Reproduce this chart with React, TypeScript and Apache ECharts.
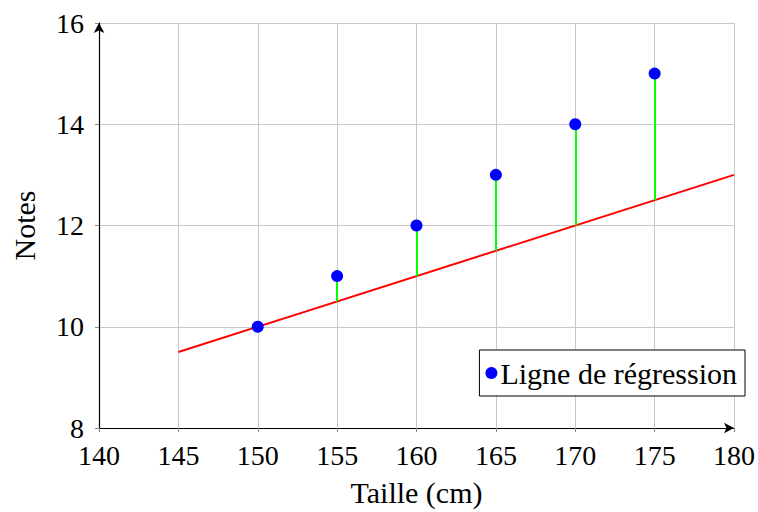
import React, { useEffect, useRef } from "react";
import * as echarts from "echarts";

const heights = [150, 155, 160, 165, 170, 175];
const grades = [10, 11, 12, 13, 14, 15];
const fitted = [10, 10.5, 11, 11.5, 12, 12.5];
const regX = [145, 180];
const regY = [9.5, 13];
const xTicks = [140, 145, 150, 155, 160, 165, 170, 175, 180];
const yTicks = [8, 10, 12, 14, 16];

const FONT = "Liberation Serif";
const FS = 28;
const FS2 = 30;

export default function App() {
  const ref = useRef<HTMLDivElement>(null);
  useEffect(() => {
    if (!ref.current) return;
    const chart = echarts.init(ref.current, undefined, { renderer: "svg" });
    chart.setOption({
      animation: false,
      textStyle: { fontFamily: FONT, color: "#000" },
      grid: { left: 99, right: 22, top: 23, bottom: 79, containLabel: false },
      xAxis: {
        type: "value",
        min: xTicks[0],
        max: xTicks[xTicks.length - 1],
        interval: 5,
        name: "Taille (cm)",
        nameLocation: "middle",
        nameGap: 49,
        nameTextStyle: { fontFamily: FONT, fontSize: FS2, color: "#000" },
        axisLine: { show: true, symbol: ["none", "arrow"], symbolSize: [8, 10], symbolOffset: [0, 0], lineStyle: { color: "#000", width: 1.2 } },
        axisTick: { show: true, length: 4, lineStyle: { color: "#888" } },
        axisLabel: { fontFamily: FONT, fontSize: FS, color: "#000", margin: 13 },
        splitLine: { show: true, lineStyle: { color: "#c8c8c8", width: 1 } },
      },
      yAxis: {
        type: "value",
        min: yTicks[0],
        max: yTicks[yTicks.length - 1],
        interval: 2,
        name: "Notes",
        nameLocation: "middle",
        nameGap: 60,
        nameRotate: 90,
        nameTextStyle: { fontFamily: FONT, fontSize: FS2, color: "#000" },
        axisLine: { show: true, symbol: ["none", "arrow"], symbolSize: [8, 10], symbolOffset: [0, 0], lineStyle: { color: "#000", width: 1.2 } },
        axisTick: { show: true, length: 4, lineStyle: { color: "#888" } },
        axisLabel: { fontFamily: FONT, fontSize: FS, color: "#000", margin: 15 },
        splitLine: { show: true, lineStyle: { color: "#c8c8c8", width: 1 } },
      },
      legend: {
        data: [{ name: "Ligne de régression", icon: "circle", itemStyle: { color: "#0000ff", opacity: 1 } }],
        right: 13,
        top: 350,
        itemWidth: 12,
        itemHeight: 12,
        padding: [8, 8, 8, 6],
        borderColor: "#000",
        borderWidth: 1,
        borderRadius: 0,
        backgroundColor: "#fff",
        textStyle: { fontFamily: FONT, fontSize: FS2, color: "#000", padding: [0, 0, 0, -2] },
      },
      series: [
        {
          type: "line",
          name: "regression",
          data: regX.map((x, i) => [x, regY[i]]),
          showSymbol: false,
          symbol: "none",
          lineStyle: { color: "#ff0000", width: 2 },
          z: 2,
        },
        {
          type: "lines",
          name: "residuals",
          coordinateSystem: "cartesian2d",
          data: heights.map((h, i) => ({ coords: [[h, grades[i]], [h, fitted[i]]] })),
          lineStyle: { color: "#00ff00", width: 2, opacity: 1 },
          z: 3,
        },
        {
          type: "scatter",
          name: "Ligne de régression",
          data: heights.map((h, i) => [h, grades[i]]),
          symbol: "circle",
          symbolSize: 12,
          itemStyle: { color: "#0000ff", opacity: 1 },
          z: 4,
        },
      ],
    });
    return () => chart.dispose();
  }, []);
  return <div ref={ref} style={{ width: 758, height: 512, position: "absolute", left: 0, top: 0 }} />;
}
